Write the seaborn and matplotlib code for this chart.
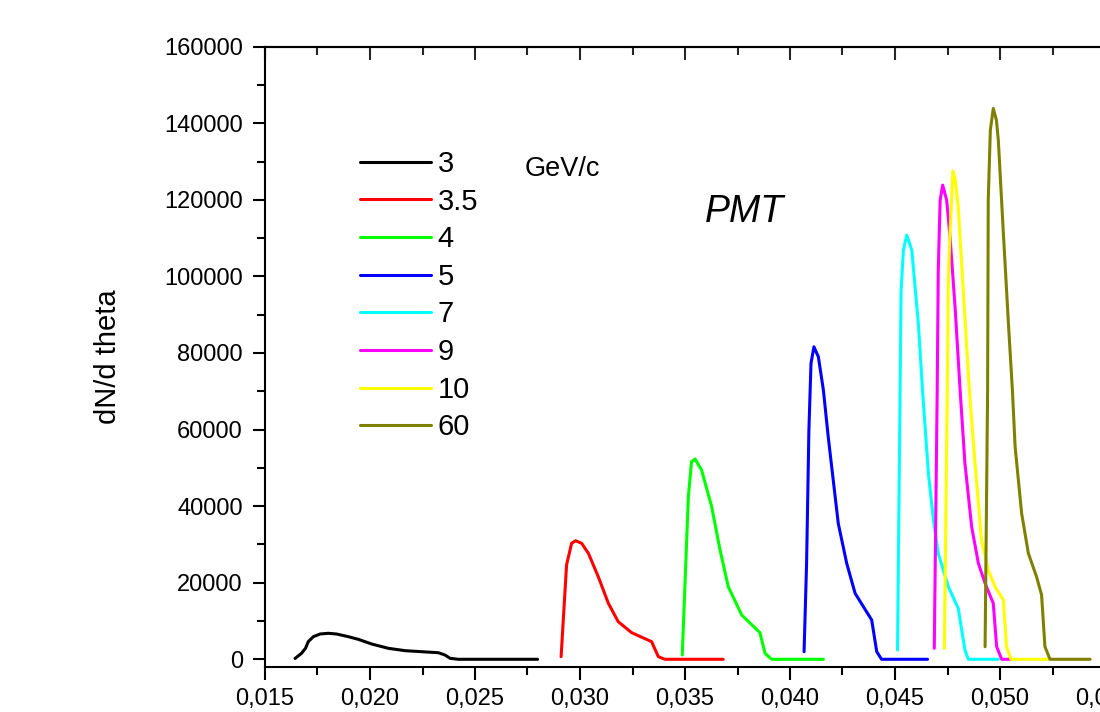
import numpy as np
import pandas as pd
import seaborn as sns
import matplotlib.pyplot as plt
from matplotlib.ticker import MultipleLocator, FuncFormatter

# theta values and dN/d theta for each momentum (GeV/c)
theta_3 = [0.01643, 0.01674, 0.01693, 0.01706, 0.01730, 0.01762, 0.01801, 0.01841, 0.01897, 0.01944,
           0.02008, 0.02087, 0.02167, 0.02246, 0.02325, 0.02357, 0.02381, 0.02420, 0.02798]
dn_3 = [210, 1570, 2870, 4600, 5900, 6600, 6790, 6600, 5900, 5220,
        3990, 2870, 2250, 1980, 1720, 1120, 260, 0, 0]

theta_35 = [0.02910, 0.02936, 0.02960, 0.02979, 0.03008, 0.03040, 0.03087, 0.03135, 0.03182, 0.03246,
            0.03341, 0.03373, 0.03405, 0.03682]
dn_35 = [680, 24620, 30290, 30970, 30290, 27680, 21570, 14620, 9820, 6950,
         4600, 680, 0, 0]

theta_4 = [0.03487, 0.03516, 0.03531, 0.03548, 0.03579, 0.03627, 0.03667, 0.03706, 0.03770, 0.03857,
           0.03881, 0.03912, 0.04159]
dn_4 = [1120, 42450, 51590, 52300, 49430, 39840, 28540, 18960, 11570, 6950,
        1570, 0, 0]

theta_5 = [0.04067, 0.04079, 0.04090, 0.04100, 0.04114, 0.04135, 0.04159, 0.04182, 0.04206, 0.04230,
           0.04270, 0.04310, 0.04389, 0.04413, 0.04436, 0.04655]
dn_5 = [1980, 25070, 59870, 77290, 81620, 79010, 70310, 58120, 46750, 35440,
        25070, 17230, 10260, 1980, 0, 0]

theta_7 = [0.04512, 0.04529, 0.04540, 0.04556, 0.04580, 0.04611, 0.04631, 0.04659, 0.04683, 0.04706,
           0.04754, 0.04801, 0.04833, 0.04849, 0.04992]
dn_7 = [2430, 96350, 106870, 110790, 106870, 87810, 70310, 48560, 36370, 27680,
        18960, 13320, 2430, 0, 0]

theta_9 = [0.04687, 0.04701, 0.04706, 0.04715, 0.04727, 0.04746, 0.04762, 0.04786, 0.04810, 0.04833,
           0.04865, 0.04897, 0.04929, 0.04968, 0.04984, 0.05008, 0.05048]
dn_9 = [2870, 70310, 101640, 119920, 123840, 119920, 110340, 92060, 70310, 51180,
        34620, 25070, 19840, 14620, 3290, 0, 0]

theta_10 = [0.04735, 0.04749, 0.04754, 0.04763, 0.04776, 0.04787, 0.04801, 0.04825, 0.04854, 0.04881,
            0.04912, 0.04944, 0.04976, 0.05016, 0.05031, 0.05052, 0.05230]
dn_10 = [2870, 70310, 99480, 112540, 127500, 125150, 118170, 96420, 70310, 51180,
         31150, 23320, 18960, 15480, 3290, 0, 0]

theta_60 = [0.04929, 0.04941, 0.04944, 0.04954, 0.04968, 0.04983, 0.04992, 0.05016, 0.05040, 0.05059,
            0.05072, 0.05103, 0.05135, 0.05174, 0.05198, 0.05214, 0.05238, 0.05429]
dn_60 = [3290, 70310, 119920, 138200, 143870, 140810, 135590, 111310, 87810, 70310,
         55510, 38120, 27680, 21570, 16790, 3290, 0, 0]

momenta = ['3', '3.5', '4', '5', '7', '9', '10', '60']
thetas = [theta_3, theta_35, theta_4, theta_5, theta_7, theta_9, theta_10, theta_60]
counts = [dn_3, dn_35, dn_4, dn_5, dn_7, dn_9, dn_10, dn_60]
colors = ['#000000', '#ff0000', '#00ff00', '#0000ff', '#00ffff', '#ff00ff', '#ffff00', '#808000']

rows = []
for p, th, dn in zip(momenta, thetas, counts):
    for t, n in zip(th, dn):
        rows.append({'p': p, 'theta': t, 'dN': n})
df = pd.DataFrame(rows)

sns.set_theme(style='ticks')
plt.rcParams['font.family'] = ['Liberation Sans', 'DejaVu Sans']
plt.rcParams['text.color'] = 'black'
plt.rcParams['axes.labelcolor'] = 'black'

fig = plt.figure(figsize=(11, 7.12), dpi=100)
# axes run past the right edge of the picture, like the original
ax = fig.add_axes([265 / 1100, 0.0628, 945 / 1100, 0.8716])

sns.lineplot(data=df, x='theta', y='dN', hue='p', hue_order=momenta,
             palette=dict(zip(momenta, colors)), estimator=None,
             sort=False, linewidth=2.2, ax=ax)

ax.set_xlim(0.015, 0.060)
ax.set_ylim(-2090, 160000)

ax.xaxis.set_major_locator(MultipleLocator(0.005))
ax.xaxis.set_minor_locator(MultipleLocator(0.0025))
ax.yaxis.set_major_locator(MultipleLocator(20000))
ax.yaxis.set_minor_locator(MultipleLocator(10000))
ax.xaxis.set_major_formatter(FuncFormatter(lambda v, pos: f'{v:.3f}'.replace('.', ',')))
ax.yaxis.set_major_formatter(FuncFormatter(lambda v, pos: f'{v:.0f}'))

for s in ['left', 'bottom', 'top', 'right']:
    ax.spines[s].set_linewidth(1.5)
    ax.spines[s].set_color('black')

ax.tick_params(axis='both', which='major', direction='out', length=9, width=1.5,
               labelsize=17, colors='black', pad=6)
ax.tick_params(axis='both', which='minor', direction='out', length=5.5, width=1.5, colors='black')
ax.tick_params(axis='y', which='major', pad=7)
ax.tick_params(axis='x', which='both', top=False)

# top axis ticks point inward
top = ax.secondary_xaxis('top')
top.xaxis.set_major_locator(MultipleLocator(0.005))
top.xaxis.set_minor_locator(MultipleLocator(0.0025))
top.tick_params(which='major', direction='in', length=9, width=1.5, labeltop=False)
top.tick_params(which='minor', direction='in', length=5.5, width=1.5)
top.spines['top'].set_linewidth(1.5)

ax.set_xlabel('')
ax.set_ylabel('dN/d theta', fontsize=21, labelpad=30)

leg = ax.legend(frameon=False, fontsize=21, handlelength=2.43, handletextpad=0.24,
                labelspacing=0.33, borderpad=0, borderaxespad=0,
                loc='upper left', bbox_to_anchor=(360 / 1100, 1 - 150 / 712),
                bbox_transform=fig.transFigure)
for line in leg.get_lines():
    line.set_linewidth(2.2)

fig.text(525 / 1100, 1 - 169 / 712, 'GeV/c', fontsize=19.5, va='center', ha='left')
fig.text(744 / 1100, 1 - 212 / 712, 'PMT', fontsize=27, style='italic', va='center', ha='center')

fig.savefig('out.png', dpi=100)
